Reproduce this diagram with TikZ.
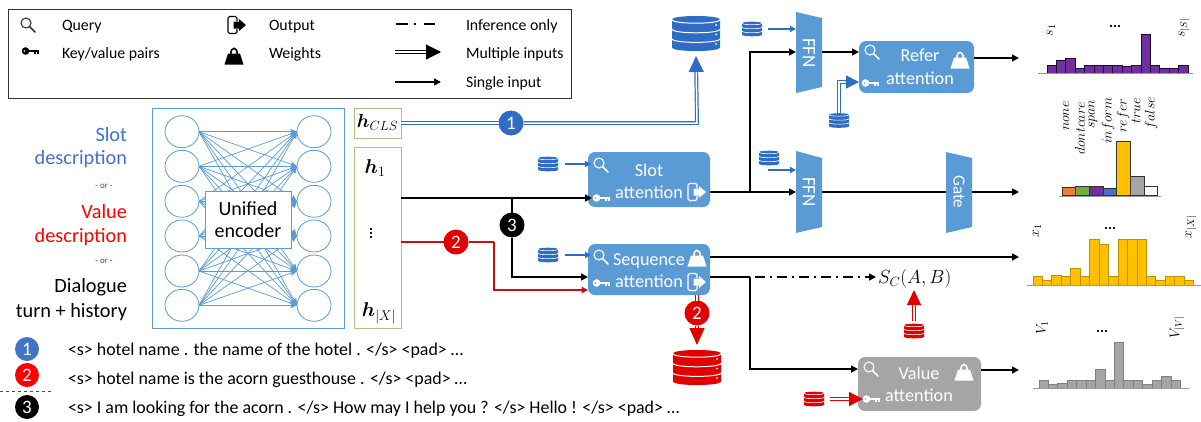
\RequirePackage{fix-cm}
\documentclass[tikz,border=0pt]{standalone}
\usepackage{amsmath,bm}
\usepackage[no-math]{fontspec}
\setmainfont{Carlito}
\usetikzlibrary{arrows.meta,calc,shapes.geometric}
\definecolor{boxblue}{HTML}{5B9BD5}
\definecolor{arrowblue}{HTML}{2F6CC6}
\definecolor{numblue}{HTML}{4472C4}
\definecolor{dbred}{HTML}{E00000}
\definecolor{linered}{HTML}{C81010}
\definecolor{boxgray}{HTML}{A5A5A5}
\definecolor{greenedge}{HTML}{A9C48A}
\definecolor{barpurple}{HTML}{7030A0}
\definecolor{baryellow}{HTML}{FFC000}
\definecolor{barorange}{HTML}{ED7D31}
\definecolor{bargreen}{HTML}{70AD47}
\newcommand{\fs}[1]{\fontsize{#1}{#1}\selectfont}
\tikzset{
  txt/.style={inner sep=0pt,outer sep=0pt,font=\fs{#1}},
  txt/.default=15.8,
  netc/.style={draw=boxblue,ellipse,minimum width=34pt,minimum height=32pt,inner sep=0pt,outer sep=0pt,line width=0.8pt},
  netedge/.style={draw=boxblue,line width=0.7pt,-{Stealth[length=7pt,width=6pt]}},
  hbox/.style={draw=greenedge,line width=1pt,fill=white,inner sep=0pt,outer sep=0pt},
  attn/.style={rounded corners=7pt,inner sep=0pt,outer sep=0pt,draw=none},
  blind/.style={inner sep=0pt,outer sep=0pt},
  num/.style={circle,minimum size=#1,inner sep=0pt,outer sep=0pt,text=white,font=\fs{19}},
  num/.default=25pt,
  blk/.style={black,line width=1.6pt,-{Triangle[length=7pt,width=7pt]}},
  blkplain/.style={black,line width=1.6pt},
  blu/.style={arrowblue,line width=1.5pt,-{Triangle[length=6pt,width=6pt]}},
  rd/.style={linered,line width=1.6pt,-{Triangle[length=6.5pt,width=6.5pt]}},
  dbl/.style={#1,line width=1.2pt,double=white,double distance=1.5pt},
  valname/.style={inner sep=0pt,outer sep=0pt,rotate=90,anchor=center,font=\fs{14}},
  dotstxt/.style={inner sep=0pt,outer sep=0pt,font=\bfseries\fs{15}},
  pics/magico/.style={code={
    \draw[#1,line width=1.1pt] (-2,-2) circle[radius=5pt];
    \draw[#1,line width=1.5pt,line cap=round] (1.6,1.6) -- (7,7);}},
  pics/keyico/.style={code={
    \fill[#1,even odd rule] (-4.5,0) circle[radius=3.8pt] (-5.5,0) circle[radius=1.2pt];
    \fill[#1] (-1.5,-1) rectangle (9,1);
    \fill[#1] (4,1) rectangle (6,2.5);
    \fill[#1] (7,1) rectangle (9,2.5);}},
  pics/weightico/.style={code={
    \fill[#1] (-6,-2.5) -- (6,-2.5) -- (9.5,8.5) -- (-9.5,8.5) -- cycle;
    \draw[#1,line width=1.6pt] (-3.2,-2) .. controls (-3.2,-9.5) and (3.2,-9.5) .. (3.2,-2);}},
  pics/outico/.style={code={
    \draw[#1,line width=1.2pt,rounded corners=1.6pt] (0,-4) -- (0,-8.5) -- (-9,-8.5) -- (-9,8.5) -- (0,8.5) -- (0,4);
    \fill[#1] (-3.5,-3.5) -- (2,-3.5) -- (2,-6) -- (9,0) -- (2,6) -- (2,3.5) -- (-3.5,3.5) -- cycle;}},
  pics/dbico/.style 2 args={code={
    \fill[#1] (-10,-5.8) -- (-10,5.8) .. controls (-10,7.8) and (10,7.8) .. (10,5.8) -- (10,-5.8) .. controls (10,-7.8) and (-10,-7.8) .. (-10,-5.8) -- cycle;
    \draw[white,line width=#2] (-10,-5.8) .. controls (-10,-3.8) and (10,-3.8) .. (10,-5.8);
    \draw[white,line width=#2] (-10,-1.8) .. controls (-10,0.2) and (10,0.2) .. (10,-1.8);
    \draw[white,line width=#2] (-10,2.2) .. controls (-10,4.2) and (10,4.2) .. (10,2.2);}},
}
\newcommand{\chartbars}[7]{%
  \foreach \v [count=\i from 0] in {#5} {
    \draw[fill=#6,draw=#7,line width=0.9pt]
      ({#1+\i*#2},#3) rectangle ({#1+(\i+1)*#2},{#4+\v/3});
  }}
\begin{document}
\begin{tikzpicture}[x=1pt,y=-1pt]
\useasboundingbox (0,0) rectangle (1201,421);
\fill[white] (0,0) rectangle (1201,421);

% legend
\node[blind,draw=black!80,line width=1pt,minimum width=563pt,minimum height=89pt] (legend) at (289.5,53.5) {};
\pic at (28,25) {magico=black!80};
\pic at (30,51) {keyico=black};
\pic at (237,25) {outico=black};
\pic at (234,56) {weightico=black};
\node[txt,anchor=base west] (lq) at (62,30) {Query};
\node[txt,anchor=base west] (lk) at (62,58) {Key/value pairs};
\node[txt,anchor=base west] (lo) at (269,30) {Output};
\node[txt,anchor=base west] (lw) at (269,58) {Weights};
\node[txt,anchor=base west] (li) at (466,30) {Inference only};
\node[txt,anchor=base west] (lm) at (466,58) {Multiple inputs};
\node[txt,anchor=base west] (ls) at (466,87) {Single input};
\coordinate (la) at (396,24); \coordinate (lb) at (435,24);
\draw[black,line width=1.6pt,dash pattern=on 11.5pt off 6.5pt on 2pt off 7.5pt] (la) -- (lb);
\coordinate (lc) at (395,52); \coordinate (ld) at (441,52);
\draw[dbl=black,-{Triangle[length=15pt,width=15pt]}] (lc) -- (ld);
\coordinate (le) at (395,82); \coordinate (lf) at (441,82);
\draw[blk] (le) -- (lf);

% left texts
\node[txt=20.3,anchor=base east,text=numblue] (t1) at (127,141) {Slot};
\node[txt=20.3,anchor=base east,text=numblue] (t2) at (127,164) {description};
\node[txt=9,anchor=base,text=black!70] (o1) at (104,188) {- or -};
\node[txt=20.3,anchor=base east,text=red] (t3) at (127,218) {Value};
\node[txt=20.3,anchor=base east,text=red] (t4) at (127,242) {description};
\node[txt=9,anchor=base,text=black!70] (o2) at (104,263) {- or -};
\node[txt=20.3,anchor=base east] (t5) at (127,292) {Dialogue};
\node[txt=20.3,anchor=base east] (t6) at (127,317) {turn + history};

% encoder
\node[blind,draw=boxblue,line width=1pt,minimum width=192pt,minimum height=220pt] (enc) at (248,218) {};
\foreach \i/\yy in {1/131.7,2/166.3,3/201.3,4/236,5/271,6/305.3} {
  \node[netc] (L\i) at (182,\yy) {};
  \node[netc] (R\i) at (314,\yy) {};
}
\foreach \i in {1,...,6} \foreach \j in {1,...,6} {
  \draw[netedge] (L\i.east) -- (R\j.west);
}
\node[blind,fill=white,draw=boxblue,line width=1pt,minimum width=86pt,minimum height=57pt] (uni) at (248,219.5) {};
\node[txt=20,anchor=base] (u1) at (248,215) {Unified};
\node[txt=20,anchor=base] (u2) at (248,237) {encoder};

% h boxes
\node[hbox,minimum width=47pt,minimum height=30pt] (hcls) at (377.5,123) {};
\node[hbox,minimum width=47pt,minimum height=181pt] (hseq) at (377.5,237.5) {};
\node[inner sep=0pt,anchor=center,font=\fs{19}] (hclst) at (377.5,122) {$\bm{h}_{CLS}$};
\node[inner sep=0pt,anchor=center,font=\fs{20}] (h1t) at (375,168) {$\bm{h}_{1}$};
\node[dotstxt,rotate=90] (hdots) at (371,233) {...};
\node[inner sep=0pt,anchor=center,font=\fs{20}] (hxt) at (379,313) {$\bm{h}_{|X|}$};

% attention boxes
\node[attn,fill=boxblue,minimum width=122pt,minimum height=55pt] (slot) at (649,179.5) {};
\node[attn,fill=boxblue,minimum width=122pt,minimum height=51pt] (seq) at (649,269.5) {};
\node[attn,fill=boxblue,minimum width=115pt,minimum height=52pt] (refer) at (916.5,67) {};
\node[attn,fill=boxgray,minimum width=123pt,minimum height=54pt] (value) at (919.5,384) {};
\node[txt=18.2,anchor=base,text=white] (slot1) at (649,176) {Slot};
\node[txt=18.2,anchor=base,text=white] (slot2) at (649,198) {attention};
\node[txt=18.2,anchor=base,text=white] (seq1) at (649,265) {Sequence};
\node[txt=18.2,anchor=base,text=white] (seq2) at (649,287) {attention};
\node[txt=18.2,anchor=base,text=white] (ref1) at (920,61) {Refer};
\node[txt=18.2,anchor=base,text=white] (ref2) at (920,84) {attention};
\node[txt=18.2,anchor=base,text=white] (val1) at (919,379) {Value};
\node[txt=18.2,anchor=base,text=white] (val2) at (919,401) {attention};

% FFN and gate
\fill[boxblue] (796,12) -- (822,18) -- (822,87) -- (796,93) -- cycle;
\fill[boxblue] (796,151) -- (822,158) -- (822,227) -- (796,233) -- cycle;
\fill[boxblue] (946,152) -- (972,158) -- (972,227) -- (946,233) -- cycle;
\node[blind,minimum width=26pt,minimum height=81pt] (ffna) at (809,52.5) {};
\node[blind,minimum width=26pt,minimum height=82pt] (ffnb) at (809,192) {};
\node[blind,minimum width=26pt,minimum height=81pt] (gate) at (959,192) {};
\node[txt=19,rotate=-90,text=white] (ffnat) at (809,53) {FFN};
\node[txt=19,rotate=-90,text=white] (ffnbt) at (809,192) {FFN};
\node[txt=17,rotate=-90,text=white] (gatet) at (959,192) {Gate};

% output anchors, databases
\node[blind,minimum width=48pt,minimum height=35pt] (dbbig) at (696,33.5) {};
\pic[scale=2.4] at (696,33.5) {dbico={arrowblue}{1pt}};
\fill[white] (716,25) circle[radius=1pt] (716,34.5) circle[radius=1pt] (716,44) circle[radius=1pt];
\node[blind,minimum width=48pt,minimum height=35pt] (dbred) at (697,367.5) {};
\pic[scale=2.4] at (697,367.5) {dbico={dbred}{1pt}};
\fill[white] (717,359) circle[radius=1pt] (717,368.5) circle[radius=1pt] (717,378) circle[radius=1pt];
\foreach \nm/\xx/\yy/\cc in {da/752/29/arrowblue,db/839/120.5/arrowblue,dc/769/158/arrowblue,dd/548/164/arrowblue,de/548/255/arrowblue,df/914/331/dbred,dg/814/399/dbred} {
  \node[blind,minimum width=20pt,minimum height=15pt] (\nm) at (\xx,\yy) {};
  \pic at (\xx,\yy) {dbico={\cc}{0.6pt}};
}

% circles
\node[num,fill=arrowblue] (c1) at (511,123) {1};
\node[num,fill=dbred] (c2) at (456,242) {2};
\node[num,fill=black] (c3) at (512,225) {3};
\node[num,fill=dbred] (c2b) at (697,313) {2};

% waypoints
\coordinate (yMain) at (0,198);
\coordinate (jA) at (512,198);
\coordinate (yB) at (0,277);
\coordinate (yR) at (0,242);
\coordinate (bendR) at (494,242);
\coordinate (bendRb) at (494,290);
\coordinate (jF) at (750,52);
\coordinate (jS) at (750,192);
\coordinate (jV) at (750,277);
\coordinate (jVb) at (750,369);
\coordinate (dStart) at (755,277);
\coordinate (dEnd) at (876,277);
\coordinate (outA) at (1019,58);
\coordinate (outB) at (1019,192);
\coordinate (outC) at (1019,257);
\coordinate (outD) at (1019,370);
\coordinate (bendK) at (839,82);
\coordinate (bendT) at (697,123);
\coordinate (daS) at (768,29);
\coordinate (dcS) at (768,170);
\coordinate (scTip) at (914,290);

% connectors
\draw[dbl=arrowblue] (hcls.east) -- (c1);
\draw[dbl=arrowblue,-{Triangle[length=16pt,width=15pt]}] (c1) -- (bendT) -- ([yshift=-5pt]dbbig.south);
\draw[blkplain] (hseq.east |- yMain) -- (jA);
\draw[blk,shorten >=-4pt] (jA) -- (slot.west |- yMain);
\draw[blkplain] (jA) -- (c3);
\draw[blk] (c3) -- (jA |- yB) -- (seq.west |- yB);
\draw[rd,-] (hseq.east |- yR) -- (c2);
\draw[rd,-] (c2) -- (bendR);
\draw[rd] (bendR) -- (bendRb) -- (seq.west |- bendRb);
\draw[blkplain] (slot.east |- jS) -- (jS);
\draw[blk] (jS) -- (ffnb.west |- jS);
\draw[blk] (jS) -- (jF) -- (ffna.west |- jF);
\draw[blk] (ffna.east |- jF) -- (refer.west |- jF);
\draw[blkplain] (ffnb.east |- jS) -- (gate.west |- jS);
\draw[blk] (gate.east |- jS) -- (outB);
\draw[blk] (refer.east |- outA) -- (outA);
\draw[blk] (seq.east |- outC) -- (outC);
\draw[blkplain] (seq.east |- jV) -- (jV);
\draw[blk] (jV) -- (jVb) -- (value.west |- jVb);
\draw[blk] (value.east |- outD) -- (outD);
\draw[black,line width=1.6pt,dash pattern=on 10pt off 5pt on 2pt off 5pt,-{Triangle[length=7pt,width=7pt]}] (dStart) -- (dEnd);
\node[inner sep=0pt,anchor=west,font=\fs{19}] (sc) at (878,279) {$S_C(A,B)$};
\draw[blu] (daS) -- (ffna.west |- daS);
\draw[blu] (dcS) -- (ffnb.west |- dcS);
\draw[blu,shorten >=-3pt] ([xshift=7pt]dd.east) -- (slot.west |- dd);
\draw[blu,shorten >=-3pt] ([xshift=7pt]de.east) -- (seq.west |- de);
\draw[dbl=arrowblue,-{Triangle[length=13pt,width=13pt]}] (db.north) -- (bendK) -- (refer.west |- bendK);
\draw[dbl=dbred] (seq.south -| c2b) -- (c2b);
\draw[dbl=dbred,-{Triangle[length=17pt,width=15pt]}] (c2b) -- ([yshift=5pt]dbred.north);
\draw[dbl=dbred,-{Triangle[length=15pt,width=14pt]}] ([yshift=3pt]df.north) -- (scTip);
\draw[dbl=dbred,-{Triangle[length=14pt,width=14pt]}] ([xshift=6pt]dg.east) -- ([xshift=5pt]value.west |- dg);

% icons on top
\pic at (601,165) {magico=white};
\pic at (601,198) {keyico=white};
\pic at (697,192) {outico=white};
\pic at (601,257) {magico=white};
\pic at (601,283) {keyico=white};
\pic at (697,258) {weightico=white};
\pic at (697,282) {outico=white};
\pic at (872,52) {magico=white};
\pic at (870,83) {keyico=white};
\pic at (960,60) {weightico=white};
\pic at (871,369) {magico=white};
\pic at (871,399) {keyico=white};
\pic at (964,372) {weightico=white};

% bottom texts
\node[num=24pt,fill=numblue] (n1) at (27,349) {1};
\node[num=24pt,fill=red] (n2) at (27,375) {2};
\node[num=24pt,fill=black] (n3) at (27,407) {3};
\coordinate (sa) at (0,391); \coordinate (sb) at (52,391);
\draw[black!70,line width=0.7pt,dashed] (sa) -- (sb);
\node[txt=17.9,anchor=base west] (b1) at (68,355) {<s> hotel name . the name of the hotel . </s> <pad> \dots};
\node[txt=17.9,anchor=base west] (b2) at (68,384) {<s> hotel name is the acorn guesthouse . </s> <pad> \dots};
\node[txt=17.9,anchor=base west] (b3) at (68,413) {<s> I am looking for the acorn . </s> How may I help you ? </s> Hello ! </s> <pad> \dots};

% charts
\chartbars{1047}{9.4}{73}{0}{195,182,175,205,195,195,197,195,198,195,103,195,204,205,195}{barpurple}{black!75!barpurple}
\coordinate (ca) at (1038,73); \coordinate (cb) at (1193,73);
\draw[black!40,line width=0.9pt] (ca) -- (cb);
\node[valname] (s1) at (1051,30) {$s_1$};
\node[valname] (s2) at (1184,28) {$s_{|S|}$};
\node[dotstxt] (sd) at (1115,26) {...};

\foreach \v/\c [count=\i from 0] in {563/barorange,560/bargreen,560/barpurple,565/numblue,423/baryellow,530/boxgray,560/white} {
  \draw[fill=\c,draw=black!80,line width=0.9pt] ({1062+\i*13.7},195.5) rectangle ({1062+(\i+1)*13.7},{\v/3});
}
\coordinate (cc) at (1059,196); \coordinate (cd) at (1161,196);
\draw[black!40,line width=0.9pt] (cc) -- (cd);
\foreach \nm/\xx/\yy/\ss in {a/1066/131/none,b/1080/155/dontcare,c/1093/129/span,d/1108/144/inform,e/1123/133/refer,f/1136/124/true,g/1151/130/false} {
  \node[inner sep=0pt,rotate=90,anchor=west,font=\fs{14}] (lab\nm) at (\xx,\yy) {$\ss$};
}

\chartbars{1033}{9.45}{285}{210}{200,210,195,198,175,200,88,103,200,88,88,88,200,210,200,200,210}{baryellow}{baryellow!75!black}
\coordinate (ce) at (1027,285.5); \coordinate (cf) at (1201,285.5);
\draw[black!40,line width=0.9pt] (ce) -- (cf);
\node[valname] (x1) at (1037,231) {$x_1$};
\node[valname] (x2) at (1191,227) {$x_{|X|}$};
\node[dotstxt] (xd) at (1110,228) {...};

\chartbars{1039}{9.43}{388}{210}{512,522,520,510,512,512,478,512,398,512,512,522,512,498,512}{boxgray}{black!50}
\coordinate (cg) at (1033,388.5); \coordinate (ch) at (1189,388.5);
\draw[black!40,line width=0.9pt] (cg) -- (ch);
\node[valname] (v1) at (1042,328) {$V_1$};
\node[valname] (v2) at (1177,327) {$V_{|V|}$};
\node[dotstxt] (vd) at (1102,331) {...};
\end{tikzpicture}
\end{document}
